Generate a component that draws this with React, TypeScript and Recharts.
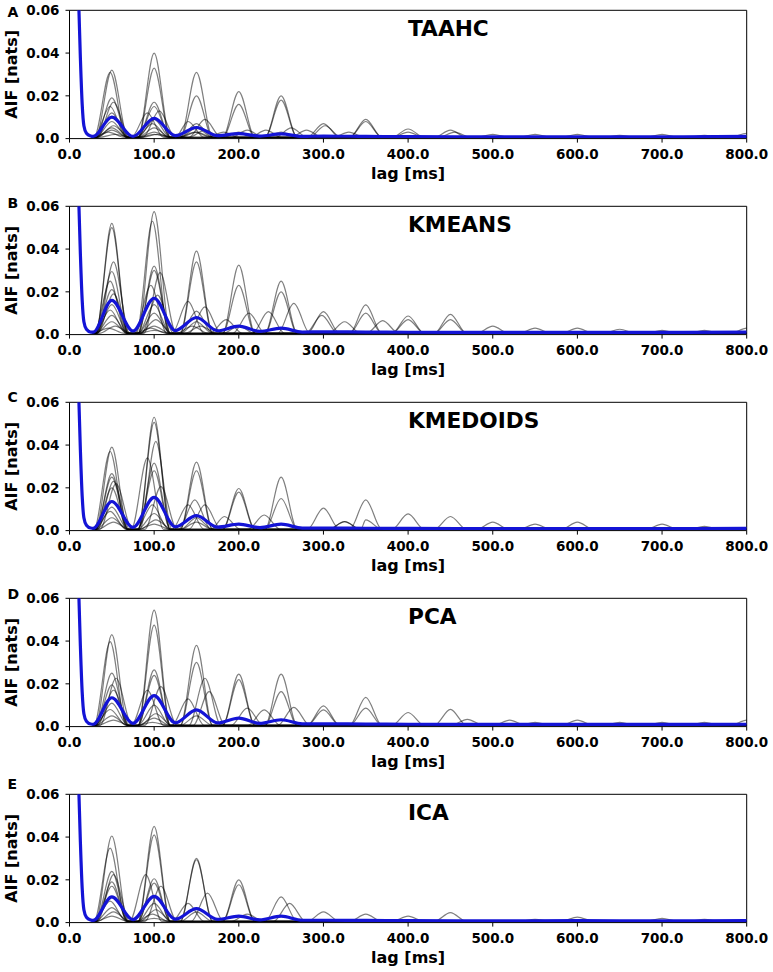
import { LineChart, Line, XAxis, YAxis, ReferenceLine } from "recharts"

/* ── Data ── */

const X_TICKS = [0, 100, 200, 300, 400, 500, 600, 700, 800]
const Y_TICKS = [0, 0.02, 0.04, 0.06]
const PANEL_LETTERS = ["A", "B", "C", "D", "E"]
const METHODS = ["TAAHC", "KMEANS", "KMEDOIDS", "PCA", "ICA"]

// steep decay every AIF curve starts with: [lag ms, nats]
const onset = [[0, 0.45], [11, 0.062], [13, 0.036], [15, 0.016], [17, 0.006], [20, 0.0025], [25, 0.0012]]
const runBaseline = 0.0006

// single runs, listed as their visible peaks [lag ms, nats]
const taahcRuns = [
  [[50, .032], [100, .040], [150, .031], [200, .022], [250, .020], [300, .007], [350, .009], [400, .0045], [450, .004], [550, .002], [700, .002]],
  [[48, .031], [100, .033], [150, .020], [200, .016], [250, .018], [302, .006], [350, .008], [400, .003], [455, .003], [600, .002], [800, .0025]],
  [[50, .019], [100, .017], [160, .009], [210, .004], [262, .005], [330, .003], [500, .002]],
  [[52, .017], [106, .013], [140, .008], [182, .003], [232, .004], [280, .004], [650, .0015]],
  [[48, .015], [92, .012], [150, .007], [200, .003], [750, .0015]],
  [[50, .012], [100, .015], [150, .005], [250, .003]],
  [[50, .008], [100, .009], [160, .004]],
  [[52, .006], [98, .007], [150, .003]],
  [[50, .005], [100, .005], [148, .003]],
  [[50, .004], [100, .003]],
  [[46, .003], [104, .002]],
  [[54, .002], [100, .002]],
]
const taahcMean = [[28, .0010], [50, .0100], [75, .0010], [100, .0095], [125, .0014], [150, .0052], [175, .0014], [200, .0023], [225, .0012], [250, .0022], [275, .0010], [300, .0012], [350, .0010], [400, .0009], [500, .0008], [600, .0008], [700, .0008], [800, .0010]]

const kmeansRuns = [
  [[50, .052], [100, .0575], [150, .039], [200, .0325], [250, .025], [300, .0107], [350, .0139], [400, .0087], [450, .0095], [500, .004], [600, .003], [700, .002], [800, .003]],
  [[50, .050], [98, .053], [150, .034], [200, .023], [250, .020], [298, .009], [350, .010], [400, .007], [450, .007], [550, .003], [650, .0025], [750, .002]],
  [[52, .034], [100, .032], [140, .0155], [185, .007], [235, .0107], [325, .006], [370, .0065]],
  [[50, .0295], [107, .029], [160, .013], [212, .010], [265, .0146]],
  [[48, .025], [100, .030], [150, .011], [200, .004]],
  [[50, .021], [96, .023], [150, .006]],
  [[52, .019], [104, .0185], [155, .004]],
  [[50, .014], [100, .014], [145, .004]],
  [[48, .0115], [100, .010]],
  [[50, .009], [102, .007]],
  [[50, .006], [100, .004]],
  [[54, .004], [96, .003]],
  [[46, .003], [100, .002]],
]
const kmeansMean = [[28, .0012], [50, .016], [75, .0017], [100, .017], [125, .0019], [150, .008], [175, .0018], [200, .004], [225, .0015], [250, .003], [275, .0012], [300, .0013], [350, .0012], [400, .0011], [500, .0010], [600, .0010], [700, .0010], [800, .0012]]

const kmedoidsRuns = [
  [[50, .039], [100, .053], [150, .032], [200, .0197], [250, .025], [300, .0105], [350, .0144], [400, .0078], [450, .0066], [500, .004], [600, .004]],
  [[48, .037], [100, .0506], [150, .028], [200, .018], [250, .015], [325, .0042], [350, .005], [550, .003], [700, .003]],
  [[50, .0266], [102, .0417], [148, .0144], [183, .0066], [230, .0073], [325, .0042], [750, .002]],
  [[50, .025], [92, .034], [140, .012]],
  [[52, .023], [100, .0316], [160, .012]],
  [[55, .022], [108, .0206], [150, .006]],
  [[50, .020], [100, .028]],
  [[50, .011], [98, .012], [150, .004]],
  [[48, .009], [100, .008]],
  [[50, .006], [102, .005]],
  [[52, .004], [100, .003]],
]
const kmedoidsMean = [[28, .0011], [50, .0136], [75, .0015], [100, .0155], [125, .0018], [150, .007], [175, .0016], [200, .003], [225, .0014], [250, .003], [275, .0012], [300, .0012], [350, .0011], [400, .0010], [500, .0009], [600, .0009], [700, .0009], [800, .0010]]

const pcaRuns = [
  [[50, .043], [100, .0545], [150, .038], [200, .0245], [250, .0245], [300, .0097], [350, .0137], [400, .0066], [450, .0081], [600, .003], [800, .003]],
  [[48, .0397], [100, .0475], [150, .030], [200, .022], [250, .0164], [300, .0078], [350, .0086], [470, .0034], [520, .003], [700, .002]],
  [[50, .025], [100, .0265], [160, .0226], [210, .0086], [265, .009], [550, .002]],
  [[55, .0226], [108, .0187], [165, .0164], [230, .0078], [650, .002]],
  [[50, .0195], [92, .017], [140, .013], [750, .002]],
  [[52, .017], [100, .024], [150, .005]],
  [[50, .011], [100, .010]],
  [[48, .008], [102, .006]],
  [[50, .005], [100, .004]],
  [[52, .003], [98, .002]],
]
const pcaMean = [[28, .0011], [50, .0135], [75, .0015], [100, .0145], [125, .0018], [150, .0078], [175, .0017], [200, .004], [225, .0015], [250, .0032], [275, .0013], [300, .0013], [350, .0012], [400, .0011], [500, .0010], [600, .0010], [700, .0010], [800, .0011]]

const icaRuns = [
  [[50, .0405], [100, .045], [150, .030], [200, .020], [250, .012], [300, .005], [350, .004], [450, .0047], [600, .0026]],
  [[48, .0348], [100, .041], [150, .0294], [200, .0177], [260, .009], [400, .003], [700, .002]],
  [[50, .024], [90, .0224], [140, .009], [210, .004], [550, .0015]],
  [[52, .0224], [100, .0205], [163, .0138], [750, .0015]],
  [[50, .019], [108, .017], [150, .005]],
  [[50, .017], [100, .0185]],
  [[48, .010], [100, .009]],
  [[50, .007], [102, .006]],
  [[52, .005], [98, .004]],
  [[50, .003], [100, .002]],
]
const icaMean = [[28, .0010], [50, .012], [75, .0014], [100, .0123], [125, .0016], [150, .0065], [175, .0015], [200, .003], [225, .0013], [250, .003], [275, .0011], [300, .0011], [350, .0010], [400, .0009], [500, .0008], [600, .0009], [700, .0008], [800, .0009]]

const PANEL_RUNS = [taahcRuns, kmeansRuns, kmedoidsRuns, pcaRuns, icaRuns]
const PANEL_MEANS = [taahcMean, kmeansMean, kmedoidsMean, pcaMean, icaMean]

/* ── Layout ── */

const W = 773
const PANEL_H = 196
const PEAK_HALF_WIDTH = 19
const LETTER_BASELINE = [16.7, 11.7, 10, 11, 5.3]
const FONT = "'DejaVu Sans', sans-serif"

const tickStyle = { fill: "#000", fontSize: 13.5, fontWeight: "bold", fontFamily: FONT }
const axisLabelStyle = { fill: "#000", fontSize: 16, fontWeight: "bold", fontFamily: FONT }

// peaks -> points for the library: onset, then each peak rising out of the baseline
function runPoints(peaks: number[][]) {
  const pts = onset.map(([lag, v]) => ({ lag, v }))
  peaks.forEach(([p, h]) => {
    const last = pts[pts.length - 1].lag
    if (p - PEAK_HALF_WIDTH > last) pts.push({ lag: p - PEAK_HALF_WIDTH, v: runBaseline })
    pts.push({ lag: p, v: h })
    pts.push({ lag: p + PEAK_HALF_WIDTH, v: runBaseline })
  })
  if (pts[pts.length - 1].lag < 800) pts.push({ lag: 800, v: runBaseline })
  return pts
}

function meanPoints(mean: number[][]) {
  return [...onset, ...mean].map(([lag, v]) => ({ lag, v }))
}

function Panel({ index }: { index: number }) {
  const runs = PANEL_RUNS[index].map(runPoints)
  const mean = meanPoints(PANEL_MEANS[index])
  return (
    <div style={{ position: "absolute", left: 0, top: index * PANEL_H, width: W, height: PANEL_H }}>
      <LineChart width={W} height={PANEL_H} margin={{ top: 10.3, right: 26.3, bottom: 12.4, left: 0 }}>
        <XAxis
          type="number"
          dataKey="lag"
          domain={[0, 800]}
          ticks={X_TICKS}
          allowDataOverflow
          tickFormatter={(v: number) => v.toFixed(1)}
          height={45}
          stroke="#000"
          tickSize={4}
          tickMargin={7}
          tick={tickStyle}
          label={{ value: "lag [ms]", position: "insideBottom", offset: 5, style: axisLabelStyle }}
        />
        <YAxis
          type="number"
          domain={[0, 0.06]}
          ticks={Y_TICKS}
          allowDataOverflow
          tickFormatter={(v: number) => (v === 0 ? "0.0" : v.toFixed(2))}
          width={69.5}
          stroke="#000"
          tickSize={4}
          tickMargin={6}
          tick={tickStyle}
          label={{ value: "AIF [nats]", angle: -90, position: "insideLeft", offset: 11.5, style: { ...axisLabelStyle, textAnchor: "middle" } }}
        />
        <ReferenceLine y={0.06} stroke="#000" />
        <ReferenceLine x={800} stroke="#000" />
        {runs.map((r, i) => (
          <Line
            key={i}
            data={r}
            dataKey="v"
            type="monotone"
            dot={false}
            stroke="#000"
            strokeOpacity={0.5}
            strokeWidth={1.2}
            isAnimationActive={false}
          />
        ))}
        <Line data={mean} dataKey="v" type="monotone" dot={false} stroke="#1414d6" strokeWidth={3.2} isAnimationActive={false} />
      </LineChart>
      <svg width={W} height={PANEL_H} style={{ position: "absolute", left: 0, top: 0, pointerEvents: "none", overflow: "visible" }}>
        <text x={7.5} y={LETTER_BASELINE[index]} fontSize={14} fontWeight="bold" fontFamily={FONT} fill="#000">
          {PANEL_LETTERS[index]}
        </text>
        <text x={408} y={36} fontSize={21.7} fontWeight="bold" fontFamily={FONT} fill="#000">
          {METHODS[index]}
        </text>
      </svg>
    </div>
  )
}

export default function App() {
  return (
    <div style={{ position: "absolute", left: 0, top: 0, width: W, height: 972, background: "#fff" }}>
      {PANEL_LETTERS.map((_, i) => (
        <Panel key={i} index={i} />
      ))}
    </div>
  )
}
